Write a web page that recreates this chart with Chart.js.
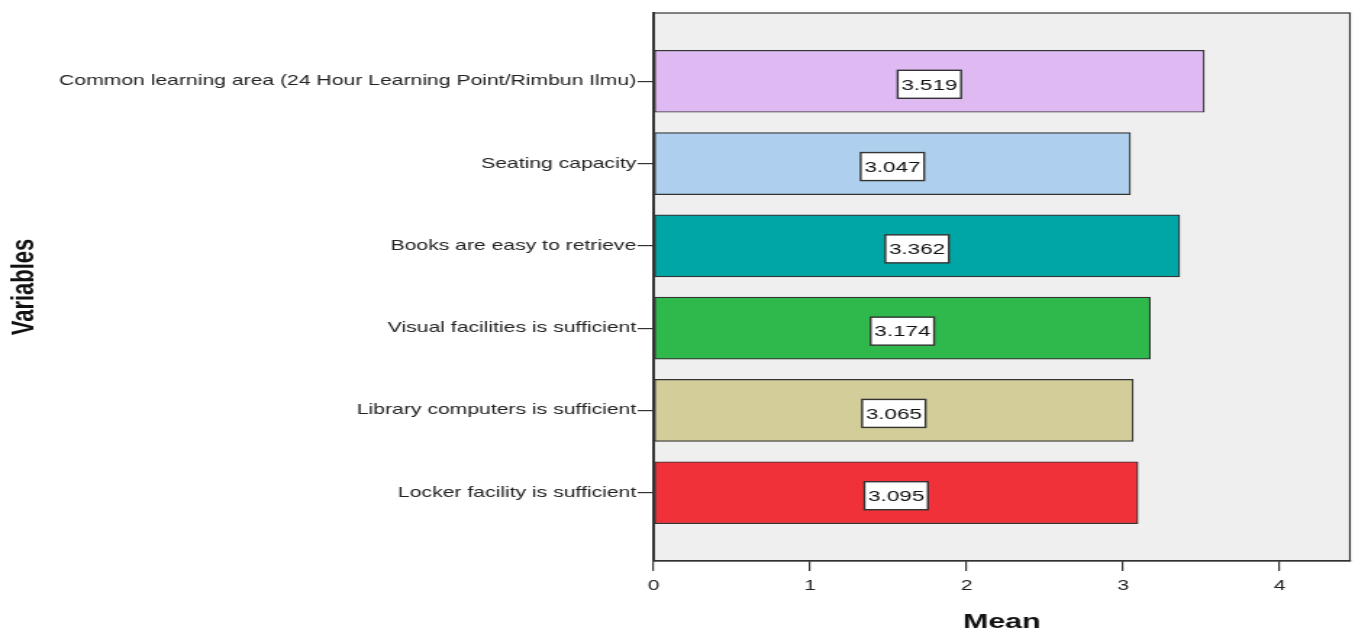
<!DOCTYPE html>
<html>
<head>
<meta charset="utf-8">
<script src="https://cdn.jsdelivr.net/npm/chart.js@4"></script>
<style>
  html, body { margin: 0; padding: 0; background: #fff; overflow: hidden; }
  #wrap { transform: scaleX(1.4492); transform-origin: 0 0; width: 935px; height: 635px; }
</style>
</head>
<body>
<div id="wrap"><canvas id="myChart" width="935" height="635"></canvas></div>
<script>
	// data
	var categories = [ 'Common learning area (24 Hour Learning Point/Rimbun Ilmu)',
			'Seating capacity', 'Books are easy to retrieve',
			'Visual facilities is sufficient', 'Library computers is sufficient',
			'Locker facility is sufficient' ];
	var means = [ 3.519, 3.047, 3.362, 3.174, 3.065, 3.095 ];
	var barColors = [ '#DFB9F2', '#AED0EE', '#00A6A5', '#2FB84B', '#D3CE99', '#F0313A' ];
	var xTicks = [ 0, 1, 2, 3, 4 ];

	var FONT = "'Liberation Sans', Arial, sans-serif";

	// plot background + frame
	var framePlugin = {
		id : 'frame',
		beforeDraw : function(chart) {
			var a = chart.chartArea, c = chart.ctx;
			c.save();
			c.fillStyle = '#EFEFEF';
			c.fillRect(a.left, a.top, a.right - a.left, a.bottom - a.top);
			c.restore();
		},
		afterDraw : function(chart) {
			var a = chart.chartArea, c = chart.ctx;
			c.save();
			c.strokeStyle = '#333';
			c.lineWidth = 1.2;
			c.strokeRect(a.left, a.top, a.right - a.left, a.bottom - a.top);
			c.restore();
		}
	};

	// boxed value labels in the middle of each bar
	var valueBoxPlugin = {
		id : 'valueBox',
		afterDatasetsDraw : function(chart) {
			var c = chart.ctx;
			var meta = chart.getDatasetMeta(0);
			c.save();
			c.font = '15.5px ' + FONT;
			c.textAlign = 'center';
			c.textBaseline = 'middle';
			meta.data.forEach(function(el, i) {
				var txt = means[i].toFixed(3);
				var cx = (el.x + el.base) / 2;
				var cy = el.y + 3;
				var w = c.measureText(txt).width + 5;
				var h = 28;
				c.fillStyle = '#fff';
				c.fillRect(cx - w / 2, cy - h / 2, w, h);
				c.strokeStyle = '#333';
				c.lineWidth = 1.4;
				c.strokeRect(cx - w / 2, cy - h / 2, w, h);
				c.fillStyle = '#111';
				c.fillText(txt, cx, cy + 1);
			});
			c.restore();
		}
	};

	var ctx = document.getElementById('myChart');
	var myChart = new Chart(ctx, {
		type : 'bar',
		data : {
			datasets : [ {
				label : 'Mean',
				data : categories.map(function(c, i) { return { x : means[i], y : i }; }),
				backgroundColor : barColors,
				borderColor : '#333',
				borderWidth : 1.2,
				borderSkipped : false,
				barThickness : 62
			} ]
		},
		options : {
			responsive : false,
			animation : false,
			indexAxis : 'y',
			layout : { padding : { left : 0, right : 3.5, top : 13, bottom : 0 } },
			plugins : {
				legend : { display : false },
				tooltip : { enabled : false }
			},
			scales : {
				x : {
					type : 'linear',
					min : 0,
					max : 4.45,
					afterFit : function(s) { s.height = 74; },
					afterBuildTicks : function(s) {
						s.ticks = xTicks.map(function(v) { return { value : v }; });
					},
					ticks : { color : '#222', font : { family : FONT, size : 14.5 }, padding : 6, includeBounds : false },
					grid : { drawOnChartArea : false, drawTicks : true, tickLength : 10, color : '#333', lineWidth : 1.2 },
					border : { display : true, color : '#333', width : 1.2 },
					title : { display : true, text : 'Mean', color : '#111',
						font : { family : FONT, size : 21, weight : 'bold' }, padding : { top : 0, bottom : 0 } }
				},
				y : {
					type : 'linear',
					reverse : true,
					offset : false,
					min : -0.83,
					max : 5.83,
					afterFit : function(s) { s.width = 451; },
					afterBuildTicks : function(s) {
						s.ticks = categories.map(function(c, i) { return { value : i }; });
					},
					ticks : {
						color : '#222',
						font : { family : FONT, size : 14.6 },
						padding : 1,
						callback : function(v) { return categories[v]; }
					},
					grid : { offset : false, drawOnChartArea : false, drawTicks : true, tickLength : 11, color : '#333', lineWidth : 1.2 },
					border : { display : true, color : '#333', width : 2 },
					title : { display : true, text : 'Variables', color : '#111',
						font : { family : FONT, size : 22, weight : 'bold' }, padding : { top : 4, bottom : 0 } }
				}
			}
		},
		plugins : [ framePlugin, valueBoxPlugin ]
	});
</script>
</body>
</html>
